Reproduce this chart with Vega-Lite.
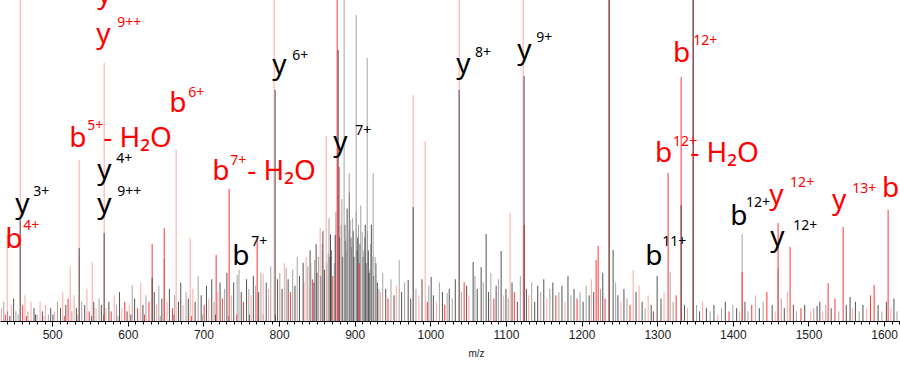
{
  "$schema": "https://vega.github.io/schema/vega-lite/v6.json",
  "width": 900,
  "height": 321,
  "autosize": {"type": "none"},
  "padding": {"left": 0, "top": 0, "right": 0, "bottom": 59},
  "config": {"view": {"stroke": null}},
  "datasets": {
    "peaks": [
      {"m":438,"i":2,"g":"red"},{"m":444,"i":1.5,"g":"black"},{"m":455,"i":2,"g":"gray"},{"m":466,"i":1.5,"g":"red"},{"m":478,"i":2,"g":"black"},{"m":489,"i":1.5,"g":"pink"},{"m":501,"i":2,"g":"black"},{"m":516,"i":1.5,"g":"red"},{"m":534,"i":2,"g":"gray"},{"m":552,"i":1.5,"g":"black"},{"m":568,"i":2,"g":"red"},{"m":587,"i":1.5,"g":"gray"},{"m":604,"i":2,"g":"black"},{"m":622,"i":2,"g":"red"},{"m":643,"i":1.5,"g":"gray"},{"m":661,"i":2,"g":"black"},{"m":684,"i":1.5,"g":"red"},{"m":699,"i":2,"g":"gray"},{"m":716,"i":2,"g":"black"},{"m":733,"i":1.5,"g":"gray"},{"m":744,"i":2,"g":"red"},{"m":761,"i":2,"g":"black"},{"m":779,"i":2,"g":"gray"},{"m":795,"i":2,"g":"black"},
      {"m":433,"i":4,"g":"pink"},{"m":436,"i":6,"g":"gray"},{"m":441,"i":3,"g":"black"},{"m":446,"i":5,"g":"pink"},{"m":449,"i":7,"g":"black"},{"m":452,"i":3,"g":"gray"},{"m":461,"i":5,"g":"red"},{"m":464,"i":8,"g":"pink"},{"m":468,"i":3,"g":"gray"},{"m":472,"i":6,"g":"pink"},{"m":476,"i":4,"g":"black"},{"m":480,"i":2,"g":"gray"},{"m":484,"i":6,"g":"pink"},{"m":487,"i":3,"g":"black"},{"m":491,"i":5,"g":"pink"},{"m":495,"i":2,"g":"gray"},{"m":498,"i":4,"g":"black"},
      {"m":503,"i":3,"g":"pink"},{"m":507,"i":6,"g":"gray"},{"m":511,"i":4,"g":"black"},{"m":514,"i":9,"g":"pink"},{"m":518,"i":5,"g":"black"},{"m":521,"i":7,"g":"red"},{"m":526,"i":3,"g":"gray"},{"m":529,"i":8,"g":"pink"},{"m":532,"i":4,"g":"black"},{"m":539,"i":6,"g":"gray"},{"m":543,"i":5,"g":"black"},{"m":546,"i":10,"g":"pink"},{"m":549,"i":3,"g":"red"},{"m":555,"i":6,"g":"black"},{"m":558,"i":4,"g":"pink"},{"m":562,"i":7,"g":"gray"},{"m":565,"i":5,"g":"black"},{"m":571,"i":4,"g":"pink"},{"m":575,"i":6,"g":"black"},{"m":578,"i":3,"g":"red"},{"m":582,"i":8,"g":"pink"},{"m":585,"i":5,"g":"gray"},{"m":589,"i":9,"g":"black"},{"m":592,"i":4,"g":"pink"},{"m":596,"i":6,"g":"red"},{"m":599,"i":3,"g":"black"},
      {"m":602,"i":5,"g":"pink"},{"m":609,"i":7,"g":"black"},{"m":613,"i":4,"g":"red"},{"m":617,"i":12,"g":"pink"},{"m":620,"i":5,"g":"black"},{"m":624,"i":8,"g":"gray"},{"m":628,"i":6,"g":"red"},{"m":635,"i":9,"g":"black"},{"m":638,"i":5,"g":"pink"},{"m":641,"i":11,"g":"gray"},{"m":645,"i":7,"g":"black"},{"m":652,"i":6,"g":"pink"},{"m":655,"i":10,"g":"black"},{"m":659,"i":4,"g":"red"},{"m":662,"i":8,"g":"gray"},{"m":667,"i":6,"g":"black"},{"m":670,"i":12,"g":"black"},{"m":673,"i":5,"g":"pink"},{"m":677,"i":9,"g":"gray"},{"m":680,"i":7,"g":"black"},{"m":686,"i":10,"g":"pink"},{"m":689,"i":6,"g":"black"},{"m":693,"i":14,"g":"gray"},{"m":697,"i":8,"g":"black"},
      {"m":701,"i":5,"g":"red"},{"m":704,"i":11,"g":"black"},{"m":707,"i":7,"g":"pink"},{"m":711,"i":13,"g":"black"},{"m":714,"i":6,"g":"gray"},{"m":719,"i":9,"g":"pink"},{"m":722,"i":12,"g":"black"},{"m":725,"i":7,"g":"red"},{"m":728,"i":10,"g":"gray"},{"m":731,"i":15,"g":"black"},{"m":737,"i":8,"g":"pink"},{"m":740,"i":12,"g":"black"},{"m":747,"i":16,"g":"gray"},{"m":750,"i":9,"g":"black"},{"m":753,"i":6,"g":"red"},{"m":757,"i":13,"g":"black"},{"m":760,"i":10,"g":"gray"},{"m":763,"i":8,"g":"pink"},{"m":766,"i":14,"g":"black"},{"m":769,"i":11,"g":"gray"},{"m":773,"i":9,"g":"black"},{"m":776,"i":15,"g":"gray"},{"m":783,"i":12,"g":"black"},{"m":786,"i":10,"g":"pink"},{"m":789,"i":17,"g":"gray"},{"m":798,"i":13,"g":"black"},
      {"m":801,"i":15,"g":"gray"},{"m":804,"i":10,"g":"black"},{"m":807,"i":18,"g":"pink"},{"m":812,"i":13,"g":"black"},{"m":815,"i":9,"g":"red"},{"m":818,"i":16,"g":"gray"},{"m":821,"i":11,"g":"black"},{"m":824,"i":20,"g":"gray"},{"m":827,"i":14,"g":"black"},{"m":833,"i":12,"g":"pink"},{"m":838,"i":17,"g":"gray"},{"m":841,"i":22,"g":"black"},{"m":844,"i":13,"g":"red"},{"m":847,"i":19,"g":"gray"},{"m":850,"i":15,"g":"black"},{"m":857,"i":24,"g":"gray"},{"m":860,"i":16,"g":"black"},{"m":865,"i":21,"g":"gray"},{"m":868,"i":27,"g":"black"},{"m":871,"i":14,"g":"red"},{"m":882,"i":30,"g":"gray"},{"m":884,"i":20,"g":"black"},{"m":888,"i":25,"g":"gray"},{"m":890,"i":35,"g":"black"},{"m":896,"i":23,"g":"gray"},{"m":898,"i":28,"g":"black"},
      {"m":842,"i":18,"g":"gray"},{"m":846,"i":12,"g":"black"},{"m":849,"i":24,"g":"black"},{"m":852,"i":20,"g":"gray"},{"m":855,"i":14,"g":"black"},{"m":858,"i":28,"g":"black"},{"m":863,"i":18,"g":"gray"},{"m":866,"i":32,"g":"gray"},{"m":869,"i":22,"g":"black"},{"m":873,"i":18,"g":"gray"},{"m":875,"i":34,"g":"gray"},{"m":880,"i":26,"g":"black"},{"m":883,"i":38,"g":"gray"},{"m":887,"i":30,"g":"black"},{"m":889,"i":22,"g":"gray"},{"m":891,"i":28,"g":"gray"},{"m":893,"i":40,"g":"black"},{"m":895,"i":26,"g":"black"},{"m":897,"i":32,"g":"gray"},{"m":899,"i":20,"g":"black"},{"m":902,"i":34,"g":"gray"},{"m":903,"i":22,"g":"black"},{"m":905,"i":30,"g":"gray"},{"m":907,"i":24,"g":"black"},{"m":908,"i":36,"g":"gray"},{"m":911,"i":20,"g":"black"},{"m":913,"i":26,"g":"gray"},{"m":915,"i":18,"g":"black"},{"m":917,"i":28,"g":"gray"},{"m":918,"i":22,"g":"black"},{"m":920,"i":16,"g":"gray"},{"m":922,"i":30,"g":"black"},{"m":923,"i":20,"g":"gray"},{"m":925,"i":14,"g":"black"},{"m":928,"i":18,"g":"black"},{"m":932,"i":10,"g":"gray"},
      {"m":904,"i":26,"g":"black"},{"m":906,"i":18,"g":"red"},{"m":912,"i":22,"g":"gray"},{"m":914,"i":30,"g":"black"},{"m":919,"i":15,"g":"black"},{"m":921,"i":24,"g":"gray"},{"m":927,"i":20,"g":"gray"},{"m":930,"i":12,"g":"black"},{"m":934,"i":9,"g":"pink"},{"m":937,"i":15,"g":"gray"},{"m":941,"i":10,"g":"black"},{"m":944,"i":7,"g":"red"},{"m":948,"i":13,"g":"gray"},{"m":952,"i":8,"g":"black"},{"m":955,"i":11,"g":"pink"},{"m":962,"i":9,"g":"black"},{"m":966,"i":12,"g":"gray"},{"m":974,"i":7,"g":"black"},{"m":981,"i":10,"g":"gray"},{"m":985,"i":8,"g":"pink"},{"m":989,"i":13,"g":"black"},{"m":996,"i":6,"g":"red"},{"m":998,"i":11,"g":"gray"},
      {"m":1004,"i":8,"g":"black"},{"m":1008,"i":6,"g":"pink"},{"m":1012,"i":12,"g":"gray"},{"m":1016,"i":9,"g":"black"},{"m":1019,"i":5,"g":"red"},{"m":1025,"i":10,"g":"black"},{"m":1029,"i":7,"g":"gray"},{"m":1033,"i":13,"g":"black"},{"m":1041,"i":9,"g":"gray"},{"m":1048,"i":11,"g":"black"},{"m":1051,"i":8,"g":"pink"},{"m":1059,"i":14,"g":"gray"},{"m":1062,"i":10,"g":"black"},{"m":1070,"i":12,"g":"gray"},{"m":1077,"i":9,"g":"black"},{"m":1080,"i":15,"g":"gray"},{"m":1084,"i":7,"g":"red"},{"m":1087,"i":11,"g":"black"},{"m":1090,"i":13,"g":"gray"},{"m":1097,"i":8,"g":"pink"},{"m":1100,"i":10,"g":"black"},
      {"m":1103,"i":7,"g":"gray"},{"m":1108,"i":12,"g":"black"},{"m":1111,"i":9,"g":"red"},{"m":1115,"i":6,"g":"black"},{"m":1119,"i":14,"g":"gray"},{"m":1127,"i":10,"g":"black"},{"m":1130,"i":8,"g":"pink"},{"m":1134,"i":12,"g":"gray"},{"m":1138,"i":6,"g":"black"},{"m":1142,"i":11,"g":"black"},{"m":1146,"i":9,"g":"gray"},{"m":1150,"i":13,"g":"black"},{"m":1154,"i":7,"g":"pink"},{"m":1158,"i":10,"g":"gray"},{"m":1162,"i":12,"g":"black"},{"m":1166,"i":8,"g":"red"},{"m":1170,"i":9,"g":"gray"},{"m":1174,"i":11,"g":"black"},{"m":1178,"i":6,"g":"pink"},{"m":1182,"i":14,"g":"black"},{"m":1186,"i":8,"g":"gray"},{"m":1190,"i":10,"g":"black"},{"m":1194,"i":7,"g":"red"},{"m":1198,"i":9,"g":"gray"},
      {"m":1202,"i":6,"g":"black"},{"m":1206,"i":11,"g":"gray"},{"m":1210,"i":8,"g":"black"},{"m":1213,"i":13,"g":"pink"},{"m":1216,"i":9,"g":"black"},{"m":1225,"i":10,"g":"gray"},{"m":1228,"i":15,"g":"black"},{"m":1231,"i":7,"g":"red"},{"m":1245,"i":12,"g":"gray"},{"m":1248,"i":8,"g":"black"},{"m":1252,"i":6,"g":"pink"},{"m":1256,"i":10,"g":"black"},{"m":1260,"i":7,"g":"gray"},{"m":1264,"i":5,"g":"red"},{"m":1272,"i":9,"g":"black"},{"m":1276,"i":11,"g":"pink"},{"m":1280,"i":6,"g":"black"},{"m":1284,"i":4,"g":"gray"},{"m":1288,"i":8,"g":"pink"},{"m":1292,"i":5,"g":"black"},{"m":1295,"i":3,"g":"red"},
      {"m":1305,"i":7,"g":"black"},{"m":1309,"i":9,"g":"pink"},{"m":1321,"i":6,"g":"gray"},{"m":1325,"i":8,"g":"red"},{"m":1336,"i":5,"g":"black"},{"m":1340,"i":4,"g":"pink"},{"m":1352,"i":5,"g":"gray"},{"m":1356,"i":3,"g":"black"},{"m":1360,"i":6,"g":"pink"},{"m":1365,"i":4,"g":"black"},{"m":1370,"i":3,"g":"gray"},{"m":1375,"i":5,"g":"black"},{"m":1380,"i":2,"g":"pink"},{"m":1385,"i":4,"g":"gray"},{"m":1390,"i":6,"g":"black"},{"m":1395,"i":3,"g":"red"},{"m":1400,"i":5,"g":"gray"},
      {"m":1405,"i":4,"g":"black"},{"m":1409,"i":3,"g":"pink"},{"m":1416,"i":6,"g":"black"},{"m":1420,"i":3,"g":"gray"},{"m":1425,"i":5,"g":"red"},{"m":1430,"i":8,"g":"pink"},{"m":1435,"i":4,"g":"black"},{"m":1440,"i":6,"g":"gray"},{"m":1445,"i":9,"g":"red"},{"m":1452,"i":5,"g":"black"},{"m":1456,"i":3,"g":"pink"},{"m":1464,"i":7,"g":"gray"},{"m":1468,"i":4,"g":"black"},{"m":1472,"i":9,"g":"pink"},{"m":1480,"i":5,"g":"black"},{"m":1484,"i":3,"g":"gray"},{"m":1490,"i":4,"g":"red"},{"m":1495,"i":5,"g":"black"},
      {"m":1503,"i":3,"g":"pink"},{"m":1507,"i":4,"g":"gray"},{"m":1515,"i":6,"g":"black"},{"m":1519,"i":3,"g":"pink"},{"m":1523,"i":5,"g":"gray"},{"m":1530,"i":4,"g":"black"},{"m":1535,"i":7,"g":"red"},{"m":1540,"i":3,"g":"gray"},{"m":1550,"i":5,"g":"black"},{"m":1558,"i":4,"g":"pink"},{"m":1562,"i":6,"g":"black"},{"m":1567,"i":3,"g":"gray"},{"m":1572,"i":5,"g":"black"},{"m":1577,"i":4,"g":"pink"},{"m":1582,"i":8,"g":"red"},{"m":1592,"i":5,"g":"black"},{"m":1597,"i":3,"g":"gray"},{"m":1603,"i":6,"g":"black"},{"m":1609,"i":4,"g":"pink"},{"m":1613,"i":7,"g":"black"},{"m":1617,"i":3,"g":"gray"},
      {"m":440.5,"i":26.8,"g":"pink"},{"m":457.7,"i":110,"g":"pink"},{"m":523.8,"i":17.1,"g":"pink"},{"m":535.7,"i":50.2,"g":"pink"},{"m":552.9,"i":18.4,"g":"pink"},{"m":568.7,"i":80.4,"g":"pink"},{"m":663.9,"i":53.3,"g":"pink"},{"m":682.5,"i":25.9,"g":"pink"},{"m":779,"i":14.6,"g":"pink"},{"m":793.5,"i":110,"g":"pink"},{"m":835.8,"i":19.9,"g":"pink"},{"m":854.3,"i":29,"g":"pink"},{"m":862.3,"i":57.6,"g":"pink"},{"m":977.3,"i":70.4,"g":"pink"},{"m":993.2,"i":56.1,"g":"pink"},{"m":1038.1,"i":110,"g":"pink"},{"m":1105.5,"i":33.6,"g":"pink"},{"m":1122.7,"i":110,"g":"pink"},{"m":1268.2,"i":15.9,"g":"pink"},
      {"m":605.8,"i":11.2,"g":"gray"},{"m":648.1,"i":19.3,"g":"gray"},{"m":744.6,"i":14.3,"g":"gray"},{"m":809.4,"i":16.5,"g":"gray"},{"m":886,"i":110,"g":"gray"},{"m":892.7,"i":46.1,"g":"gray"},{"m":894,"i":31.5,"g":"gray"},{"m":901.9,"i":95.3,"g":"gray"},{"m":909.9,"i":27.7,"g":"gray"},{"m":916.5,"i":81.9,"g":"gray"},{"m":924.4,"i":46.1,"g":"gray"},{"m":958.8,"i":19,"g":"gray"},{"m":1022.2,"i":8.7,"g":"gray"},{"m":1317.1,"i":15.3,"g":"gray"},{"m":1412.3,"i":27.1,"g":"gray"},{"m":1459.8,"i":16.5,"g":"gray"},
      {"m":632.2,"i":24,"g":"red"},{"m":648.1,"i":29,"g":"red"},{"m":716.8,"i":20.6,"g":"red"},{"m":734,"i":41.1,"g":"red"},{"m":771,"i":26.2,"g":"red"},{"m":876.8,"i":110,"g":"red"},{"m":879.4,"i":48,"g":"red"},{"m":1044.7,"i":12.1,"g":"red"},{"m":1124,"i":29.9,"g":"red"},{"m":1219.2,"i":19,"g":"red"},{"m":1221.9,"i":23.4,"g":"red"},{"m":1236.4,"i":110,"g":"red"},{"m":1314.4,"i":46.1,"g":"red"},{"m":1331.6,"i":76,"g":"red"},{"m":1347.5,"i":110,"g":"red"},{"m":1412.3,"i":15.3,"g":"red"},{"m":1459.8,"i":30.5,"g":"red"},{"m":1475.7,"i":23.1,"g":"red"},{"m":1526,"i":11.8,"g":"red"},{"m":1545.8,"i":29.3,"g":"red"},{"m":1586.8,"i":11.2,"g":"red"},{"m":1605.3,"i":34.6,"g":"red"},
      {"m":457.7,"i":31.5,"g":"black"},{"m":535.7,"i":22.7,"g":"black"},{"m":568.7,"i":27.4,"g":"black"},{"m":632.2,"i":13.4,"g":"black"},{"m":794.8,"i":72,"g":"black"},{"m":831.8,"i":18.1,"g":"black"},{"m":867.5,"i":19.9,"g":"black"},{"m":874.2,"i":26.8,"g":"black"},{"m":878.1,"i":84.4,"g":"black"},{"m":970.7,"i":12.8,"g":"black"},{"m":977.3,"i":35.5,"g":"black"},{"m":1001.1,"i":13.7,"g":"black"},{"m":1038.1,"i":72,"g":"black"},{"m":1056.6,"i":18.4,"g":"black"},{"m":1067.2,"i":16.8,"g":"black"},{"m":1073.8,"i":27.1,"g":"black"},{"m":1093.6,"i":21.8,"g":"black"},{"m":1124,"i":76.3,"g":"black"},{"m":1236.4,"i":110,"g":"black"},{"m":1241.7,"i":22.1,"g":"black"},{"m":1299.9,"i":14,"g":"black"},{"m":1331.6,"i":36.1,"g":"black"},{"m":1347.5,"i":110,"g":"black"},{"m":1555,"i":7.5,"g":"black"},{"m":1511.4,"i":4.7,"g":"black"}
    ],
    "labels": [
      {"t":"y","m":559.5,"i":99.1,"c":"red","k":"main"},
      {"t":"y","m":558.2,"i":86.6,"c":"red","k":"main"},
      {"t":"9++","m":585.9,"i":91.6,"c":"red","k":"sup"},
      {"t":"y","m":790.9,"i":76.9,"c":"black","k":"main"},
      {"t":"6+","m":817.3,"i":81.3,"c":"black","k":"sup"},
      {"t":"b","m":654.7,"i":65.1,"c":"red","k":"main"},
      {"t":"6+","m":679.8,"i":69.8,"c":"red","k":"sup"},
      {"t":"b","m":522.5,"i":54.2,"c":"red","k":"main"},
      {"t":"5+","m":546.3,"i":59.5,"c":"red","k":"sup"},
      {"t":"- H₂O","m":567.4,"i":54.2,"c":"red","k":"main"},
      {"t":"y","m":559.5,"i":44.2,"c":"black","k":"main"},
      {"t":"4+","m":584.6,"i":49.2,"c":"black","k":"sup"},
      {"t":"y","m":559.5,"i":33.6,"c":"black","k":"main"},
      {"t":"9++","m":585.9,"i":38.9,"c":"black","k":"sup"},
      {"t":"y","m":451.1,"i":33.6,"c":"black","k":"main"},
      {"t":"3+","m":474.9,"i":38.9,"c":"black","k":"sup"},
      {"t":"b","m":437.9,"i":22.7,"c":"red","k":"main"},
      {"t":"4+","m":461.7,"i":28.3,"c":"red","k":"sup"},
      {"t":"b","m":711.5,"i":43.9,"c":"red","k":"main"},
      {"t":"7+","m":735.3,"i":48.6,"c":"red","k":"sup"},
      {"t":"- H₂O","m":757.8,"i":43.9,"c":"red","k":"main"},
      {"t":"b","m":738.0,"i":17.4,"c":"black","k":"main"},
      {"t":"7+","m":763.1,"i":23.4,"c":"black","k":"sup"},
      {"t":"y","m":871.5,"i":53.0,"c":"black","k":"main"},
      {"t":"7+","m":900.6,"i":57.9,"c":"black","k":"sup"},
      {"t":"y","m":1034.1,"i":77.3,"c":"black","k":"main"},
      {"t":"8+","m":1059.2,"i":82.2,"c":"black","k":"sup"},
      {"t":"y","m":1114.8,"i":81.6,"c":"black","k":"main"},
      {"t":"9+","m":1139.9,"i":86.9,"c":"black","k":"sup"},
      {"t":"b","m":1321.0,"i":80.7,"c":"red","k":"main"},
      {"t":"12+","m":1347.5,"i":86.0,"c":"red","k":"sup"},
      {"t":"b","m":1297.2,"i":49.5,"c":"red","k":"main"},
      {"t":"12+","m":1321.0,"i":54.5,"c":"red","k":"sup"},
      {"t":"- H₂O","m":1343.5,"i":49.5,"c":"red","k":"main"},
      {"t":"b","m":1396.4,"i":29.9,"c":"black","k":"main"},
      {"t":"12+","m":1417.5,"i":35.5,"c":"black","k":"sup"},
      {"t":"y","m":1448.0,"i":36.4,"c":"red","k":"main"},
      {"t":"12+","m":1475.7,"i":41.7,"c":"red","k":"sup"},
      {"t":"y","m":1449.3,"i":23.4,"c":"black","k":"main"},
      {"t":"12+","m":1479.7,"i":28.3,"c":"black","k":"sup"},
      {"t":"y","m":1531.2,"i":34.9,"c":"red","k":"main"},
      {"t":"13+","m":1557.7,"i":39.9,"c":"red","k":"sup"},
      {"t":"b","m":1597.3,"i":38.6,"c":"red","k":"main"},
      {"t":"b","m":1284.0,"i":17.4,"c":"black","k":"main"},
      {"t":"11+","m":1306.5,"i":23.4,"c":"black","k":"sup"}
    ]
  },
  "layer": [
    {
      "data": {"name": "peaks"},
      "mark": {"type": "rule", "clip": true, "strokeWidth": 1, "opacity": 0.9},
      "encoding": {
        "x": {
          "field": "m", "type": "quantitative",
          "scale": {"domain": [431, 1621], "nice": false, "zero": false},
          "axis": {
            "title": "m/z", "titleFontSize": 10, "titleFont": "Liberation Sans", "titleFontWeight": "normal", "titleColor": "#222",
            "titleX": 476, "titleY": 32, "titleAlign": "center", "titleBaseline": "middle",
            "tickCount": 120, "grid": false, "labelOverlap": false,
            "labelExpr": "datum.value % 100 === 0 ? format(datum.value, 'd') : ''",
            "labelFont": "Liberation Sans", "labelFontSize": 12, "labelColor": "#222", "labelPadding": 3,
            "domainColor": "#000", "domainWidth": 1,
            "tickColor": "#000",
            "tickSize": {"condition": {"test": "datum.value % 100 === 0", "value": 5}, "value": 3}
          }
        },
        "y": {
          "field": "i", "type": "quantitative",
          "scale": {"domain": [0, 100], "nice": false},
          "axis": null
        },
        "y2": {"datum": 0},
        "color": {
          "field": "g", "type": "nominal",
          "scale": {"domain": ["pink", "red", "gray", "black"], "range": ["#ff9c9c", "#ff2020", "#9a9a9a", "#404040"]},
          "legend": null
        }
      }
    },
    {
      "data": {"name": "labels"},
      "transform": [{"filter": "datum.k === 'main'"}],
      "mark": {"type": "text", "align": "left", "baseline": "alphabetic", "font": "Noto Sans", "fontSize": 28},
      "encoding": {
        "x": {"field": "m", "type": "quantitative"},
        "y": {"field": "i", "type": "quantitative"},
        "text": {"field": "t"},
        "color": {"field": "c", "type": "nominal", "scale": {"domain": ["red", "black"], "range": ["#ff0000", "#000000"]}, "legend": null}
      }
    },
    {
      "data": {"name": "labels"},
      "transform": [{"filter": "datum.k === 'sup'"}],
      "mark": {"type": "text", "align": "left", "baseline": "alphabetic", "font": "Noto Sans", "fontSize": 14},
      "encoding": {
        "x": {"field": "m", "type": "quantitative"},
        "y": {"field": "i", "type": "quantitative"},
        "text": {"field": "t"},
        "color": {"field": "c", "type": "nominal", "scale": {"domain": ["red", "black"], "range": ["#ff0000", "#000000"]}, "legend": null}
      }
    }
  ],
  "resolve": {"scale": {"color": "independent"}}
}
